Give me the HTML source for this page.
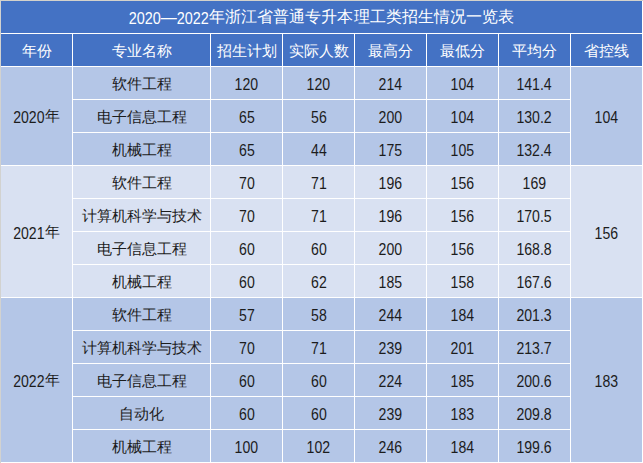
<!DOCTYPE html>
<html><head><meta charset="utf-8">
<style>
html,body{margin:0;padding:0;}
body{width:643px;height:463px;position:relative;overflow:hidden;background:#fff;font-family:"Liberation Sans",sans-serif;}
.c{position:absolute;display:flex;align-items:center;justify-content:center;font-size:15px;color:#1c1c1c;white-space:nowrap;box-sizing:border-box;padding-top:4px;}
.i{display:block;line-height:20px;}
.n{display:inline-block;font-size:16px;transform:scaleX(0.88);position:relative;top:0px;}
.z{position:relative;top:-1px;}
.t{font-size:16px;}
.h{background:#4472C4;color:#fff;}
.a{background:#B4C6E7;}
.b{background:#D9E1F2;}
#topline{position:absolute;left:0;top:0;width:643px;height:1px;background:#d4d2cb;}
#leftline{position:absolute;left:0;top:0;width:1px;height:463px;background:#d2d2d0;}
.t .z{top:-2px;letter-spacing:0.07px;}
.y .z{top:-2px;}
.t .d{top:-1px;}
</style></head><body>
<div class="c h t" style="left:1px;top:1px;width:641px;height:32px;"><span class="i"><span class="n" style="margin:0 -1.78px;transform:scaleX(0.9)">2020</span><span class="z d">—</span><span class="n" style="margin:0 -1.78px;transform:scaleX(0.9)">2022</span><span class="z">年浙江省普通专升本理工类招生情况一览表</span></span></div>
<div class="c h" style="left:1px;top:34px;width:71px;height:32px;"><span class="i"><span class="z">年份</span></span></div>
<div class="c h" style="left:73px;top:34px;width:137px;height:32px;"><span class="i"><span class="z">专业名称</span></span></div>
<div class="c h" style="left:211px;top:34px;width:71px;height:32px;"><span class="i"><span class="z">招生计划</span></span></div>
<div class="c h" style="left:283px;top:34px;width:71px;height:32px;"><span class="i"><span class="z">实际人数</span></span></div>
<div class="c h" style="left:355px;top:34px;width:71px;height:32px;"><span class="i"><span class="z">最高分</span></span></div>
<div class="c h" style="left:427px;top:34px;width:71px;height:32px;"><span class="i"><span class="z">最低分</span></span></div>
<div class="c h" style="left:499px;top:34px;width:71px;height:32px;"><span class="i"><span class="z">平均分</span></span></div>
<div class="c h" style="left:571px;top:34px;width:71px;height:32px;"><span class="i"><span class="z">省控线</span></span></div>
<div class="c a y" style="left:1px;top:67px;width:71px;height:98px;"><span class="i"><span class="n" style="margin:0 -2.14px;transform:scaleX(0.88)">2020</span><span class="z">年</span></span></div>
<div class="c a" style="left:571px;top:67px;width:71px;height:98px;"><span class="i"><span class="n" style="margin:0 -1.60px;transform:scaleX(0.88)">104</span></span></div>
<div class="c a" style="left:73px;top:67px;width:137px;height:32px;"><span class="i"><span class="z">软件工程</span></span></div>
<div class="c a" style="left:211px;top:67px;width:71px;height:32px;"><span class="i"><span class="n" style="margin:0 -1.60px;transform:scaleX(0.88)">120</span></span></div>
<div class="c a" style="left:283px;top:67px;width:71px;height:32px;"><span class="i"><span class="n" style="margin:0 -1.60px;transform:scaleX(0.88)">120</span></span></div>
<div class="c a" style="left:355px;top:67px;width:71px;height:32px;"><span class="i"><span class="n" style="margin:0 -1.60px;transform:scaleX(0.88)">214</span></span></div>
<div class="c a" style="left:427px;top:67px;width:71px;height:32px;"><span class="i"><span class="n" style="margin:0 -1.60px;transform:scaleX(0.88)">104</span></span></div>
<div class="c a" style="left:499px;top:67px;width:71px;height:32px;"><span class="i"><span class="n" style="margin:0 -2.40px;transform:scaleX(0.88)">141.4</span></span></div>
<div class="c a" style="left:73px;top:100px;width:137px;height:32px;"><span class="i"><span class="z">电子信息工程</span></span></div>
<div class="c a" style="left:211px;top:100px;width:71px;height:32px;"><span class="i"><span class="n" style="margin:0 -1.07px;transform:scaleX(0.88)">65</span></span></div>
<div class="c a" style="left:283px;top:100px;width:71px;height:32px;"><span class="i"><span class="n" style="margin:0 -1.07px;transform:scaleX(0.88)">56</span></span></div>
<div class="c a" style="left:355px;top:100px;width:71px;height:32px;"><span class="i"><span class="n" style="margin:0 -1.60px;transform:scaleX(0.88)">200</span></span></div>
<div class="c a" style="left:427px;top:100px;width:71px;height:32px;"><span class="i"><span class="n" style="margin:0 -1.60px;transform:scaleX(0.88)">104</span></span></div>
<div class="c a" style="left:499px;top:100px;width:71px;height:32px;"><span class="i"><span class="n" style="margin:0 -2.40px;transform:scaleX(0.88)">130.2</span></span></div>
<div class="c a" style="left:73px;top:133px;width:137px;height:32px;"><span class="i"><span class="z">机械工程</span></span></div>
<div class="c a" style="left:211px;top:133px;width:71px;height:32px;"><span class="i"><span class="n" style="margin:0 -1.07px;transform:scaleX(0.88)">65</span></span></div>
<div class="c a" style="left:283px;top:133px;width:71px;height:32px;"><span class="i"><span class="n" style="margin:0 -1.07px;transform:scaleX(0.88)">44</span></span></div>
<div class="c a" style="left:355px;top:133px;width:71px;height:32px;"><span class="i"><span class="n" style="margin:0 -1.60px;transform:scaleX(0.88)">175</span></span></div>
<div class="c a" style="left:427px;top:133px;width:71px;height:32px;"><span class="i"><span class="n" style="margin:0 -1.60px;transform:scaleX(0.88)">105</span></span></div>
<div class="c a" style="left:499px;top:133px;width:71px;height:32px;"><span class="i"><span class="n" style="margin:0 -2.40px;transform:scaleX(0.88)">132.4</span></span></div>
<div class="c b y" style="left:1px;top:166px;width:71px;height:131px;"><span class="i"><span class="n" style="margin:0 -2.14px;transform:scaleX(0.88)">2021</span><span class="z">年</span></span></div>
<div class="c b" style="left:571px;top:166px;width:71px;height:131px;"><span class="i"><span class="n" style="margin:0 -1.60px;transform:scaleX(0.88)">156</span></span></div>
<div class="c b" style="left:73px;top:166px;width:137px;height:32px;"><span class="i"><span class="z">软件工程</span></span></div>
<div class="c b" style="left:211px;top:166px;width:71px;height:32px;"><span class="i"><span class="n" style="margin:0 -1.07px;transform:scaleX(0.88)">70</span></span></div>
<div class="c b" style="left:283px;top:166px;width:71px;height:32px;"><span class="i"><span class="n" style="margin:0 -1.07px;transform:scaleX(0.88)">71</span></span></div>
<div class="c b" style="left:355px;top:166px;width:71px;height:32px;"><span class="i"><span class="n" style="margin:0 -1.60px;transform:scaleX(0.88)">196</span></span></div>
<div class="c b" style="left:427px;top:166px;width:71px;height:32px;"><span class="i"><span class="n" style="margin:0 -1.60px;transform:scaleX(0.88)">156</span></span></div>
<div class="c b" style="left:499px;top:166px;width:71px;height:32px;"><span class="i"><span class="n" style="margin:0 -1.60px;transform:scaleX(0.88)">169</span></span></div>
<div class="c b" style="left:73px;top:199px;width:137px;height:32px;"><span class="i"><span class="z">计算机科学与技术</span></span></div>
<div class="c b" style="left:211px;top:199px;width:71px;height:32px;"><span class="i"><span class="n" style="margin:0 -1.07px;transform:scaleX(0.88)">70</span></span></div>
<div class="c b" style="left:283px;top:199px;width:71px;height:32px;"><span class="i"><span class="n" style="margin:0 -1.07px;transform:scaleX(0.88)">71</span></span></div>
<div class="c b" style="left:355px;top:199px;width:71px;height:32px;"><span class="i"><span class="n" style="margin:0 -1.60px;transform:scaleX(0.88)">196</span></span></div>
<div class="c b" style="left:427px;top:199px;width:71px;height:32px;"><span class="i"><span class="n" style="margin:0 -1.60px;transform:scaleX(0.88)">156</span></span></div>
<div class="c b" style="left:499px;top:199px;width:71px;height:32px;"><span class="i"><span class="n" style="margin:0 -2.40px;transform:scaleX(0.88)">170.5</span></span></div>
<div class="c b" style="left:73px;top:232px;width:137px;height:32px;"><span class="i"><span class="z">电子信息工程</span></span></div>
<div class="c b" style="left:211px;top:232px;width:71px;height:32px;"><span class="i"><span class="n" style="margin:0 -1.07px;transform:scaleX(0.88)">60</span></span></div>
<div class="c b" style="left:283px;top:232px;width:71px;height:32px;"><span class="i"><span class="n" style="margin:0 -1.07px;transform:scaleX(0.88)">60</span></span></div>
<div class="c b" style="left:355px;top:232px;width:71px;height:32px;"><span class="i"><span class="n" style="margin:0 -1.60px;transform:scaleX(0.88)">200</span></span></div>
<div class="c b" style="left:427px;top:232px;width:71px;height:32px;"><span class="i"><span class="n" style="margin:0 -1.60px;transform:scaleX(0.88)">156</span></span></div>
<div class="c b" style="left:499px;top:232px;width:71px;height:32px;"><span class="i"><span class="n" style="margin:0 -2.40px;transform:scaleX(0.88)">168.8</span></span></div>
<div class="c b" style="left:73px;top:265px;width:137px;height:32px;"><span class="i"><span class="z">机械工程</span></span></div>
<div class="c b" style="left:211px;top:265px;width:71px;height:32px;"><span class="i"><span class="n" style="margin:0 -1.07px;transform:scaleX(0.88)">60</span></span></div>
<div class="c b" style="left:283px;top:265px;width:71px;height:32px;"><span class="i"><span class="n" style="margin:0 -1.07px;transform:scaleX(0.88)">62</span></span></div>
<div class="c b" style="left:355px;top:265px;width:71px;height:32px;"><span class="i"><span class="n" style="margin:0 -1.60px;transform:scaleX(0.88)">185</span></span></div>
<div class="c b" style="left:427px;top:265px;width:71px;height:32px;"><span class="i"><span class="n" style="margin:0 -1.60px;transform:scaleX(0.88)">158</span></span></div>
<div class="c b" style="left:499px;top:265px;width:71px;height:32px;"><span class="i"><span class="n" style="margin:0 -2.40px;transform:scaleX(0.88)">167.6</span></span></div>
<div class="c a y" style="left:1px;top:298px;width:71px;height:164px;"><span class="i"><span class="n" style="margin:0 -2.14px;transform:scaleX(0.88)">2022</span><span class="z">年</span></span></div>
<div class="c a" style="left:571px;top:298px;width:71px;height:164px;"><span class="i"><span class="n" style="margin:0 -1.60px;transform:scaleX(0.88)">183</span></span></div>
<div class="c a" style="left:73px;top:298px;width:137px;height:32px;"><span class="i"><span class="z">软件工程</span></span></div>
<div class="c a" style="left:211px;top:298px;width:71px;height:32px;"><span class="i"><span class="n" style="margin:0 -1.07px;transform:scaleX(0.88)">57</span></span></div>
<div class="c a" style="left:283px;top:298px;width:71px;height:32px;"><span class="i"><span class="n" style="margin:0 -1.07px;transform:scaleX(0.88)">58</span></span></div>
<div class="c a" style="left:355px;top:298px;width:71px;height:32px;"><span class="i"><span class="n" style="margin:0 -1.60px;transform:scaleX(0.88)">244</span></span></div>
<div class="c a" style="left:427px;top:298px;width:71px;height:32px;"><span class="i"><span class="n" style="margin:0 -1.60px;transform:scaleX(0.88)">184</span></span></div>
<div class="c a" style="left:499px;top:298px;width:71px;height:32px;"><span class="i"><span class="n" style="margin:0 -2.40px;transform:scaleX(0.88)">201.3</span></span></div>
<div class="c a" style="left:73px;top:331px;width:137px;height:32px;"><span class="i"><span class="z">计算机科学与技术</span></span></div>
<div class="c a" style="left:211px;top:331px;width:71px;height:32px;"><span class="i"><span class="n" style="margin:0 -1.07px;transform:scaleX(0.88)">70</span></span></div>
<div class="c a" style="left:283px;top:331px;width:71px;height:32px;"><span class="i"><span class="n" style="margin:0 -1.07px;transform:scaleX(0.88)">71</span></span></div>
<div class="c a" style="left:355px;top:331px;width:71px;height:32px;"><span class="i"><span class="n" style="margin:0 -1.60px;transform:scaleX(0.88)">239</span></span></div>
<div class="c a" style="left:427px;top:331px;width:71px;height:32px;"><span class="i"><span class="n" style="margin:0 -1.60px;transform:scaleX(0.88)">201</span></span></div>
<div class="c a" style="left:499px;top:331px;width:71px;height:32px;"><span class="i"><span class="n" style="margin:0 -2.40px;transform:scaleX(0.88)">213.7</span></span></div>
<div class="c a" style="left:73px;top:364px;width:137px;height:32px;"><span class="i"><span class="z">电子信息工程</span></span></div>
<div class="c a" style="left:211px;top:364px;width:71px;height:32px;"><span class="i"><span class="n" style="margin:0 -1.07px;transform:scaleX(0.88)">60</span></span></div>
<div class="c a" style="left:283px;top:364px;width:71px;height:32px;"><span class="i"><span class="n" style="margin:0 -1.07px;transform:scaleX(0.88)">60</span></span></div>
<div class="c a" style="left:355px;top:364px;width:71px;height:32px;"><span class="i"><span class="n" style="margin:0 -1.60px;transform:scaleX(0.88)">224</span></span></div>
<div class="c a" style="left:427px;top:364px;width:71px;height:32px;"><span class="i"><span class="n" style="margin:0 -1.60px;transform:scaleX(0.88)">185</span></span></div>
<div class="c a" style="left:499px;top:364px;width:71px;height:32px;"><span class="i"><span class="n" style="margin:0 -2.40px;transform:scaleX(0.88)">200.6</span></span></div>
<div class="c a" style="left:73px;top:397px;width:137px;height:32px;"><span class="i"><span class="z">自动化</span></span></div>
<div class="c a" style="left:211px;top:397px;width:71px;height:32px;"><span class="i"><span class="n" style="margin:0 -1.07px;transform:scaleX(0.88)">60</span></span></div>
<div class="c a" style="left:283px;top:397px;width:71px;height:32px;"><span class="i"><span class="n" style="margin:0 -1.07px;transform:scaleX(0.88)">60</span></span></div>
<div class="c a" style="left:355px;top:397px;width:71px;height:32px;"><span class="i"><span class="n" style="margin:0 -1.60px;transform:scaleX(0.88)">239</span></span></div>
<div class="c a" style="left:427px;top:397px;width:71px;height:32px;"><span class="i"><span class="n" style="margin:0 -1.60px;transform:scaleX(0.88)">183</span></span></div>
<div class="c a" style="left:499px;top:397px;width:71px;height:32px;"><span class="i"><span class="n" style="margin:0 -2.40px;transform:scaleX(0.88)">209.8</span></span></div>
<div class="c a" style="left:73px;top:430px;width:137px;height:32px;"><span class="i"><span class="z">机械工程</span></span></div>
<div class="c a" style="left:211px;top:430px;width:71px;height:32px;"><span class="i"><span class="n" style="margin:0 -1.60px;transform:scaleX(0.88)">100</span></span></div>
<div class="c a" style="left:283px;top:430px;width:71px;height:32px;"><span class="i"><span class="n" style="margin:0 -1.60px;transform:scaleX(0.88)">102</span></span></div>
<div class="c a" style="left:355px;top:430px;width:71px;height:32px;"><span class="i"><span class="n" style="margin:0 -1.60px;transform:scaleX(0.88)">246</span></span></div>
<div class="c a" style="left:427px;top:430px;width:71px;height:32px;"><span class="i"><span class="n" style="margin:0 -1.60px;transform:scaleX(0.88)">184</span></span></div>
<div class="c a" style="left:499px;top:430px;width:71px;height:32px;"><span class="i"><span class="n" style="margin:0 -2.40px;transform:scaleX(0.88)">199.6</span></span></div>
<div id="topline"></div><div id="leftline"></div>
</body></html>
